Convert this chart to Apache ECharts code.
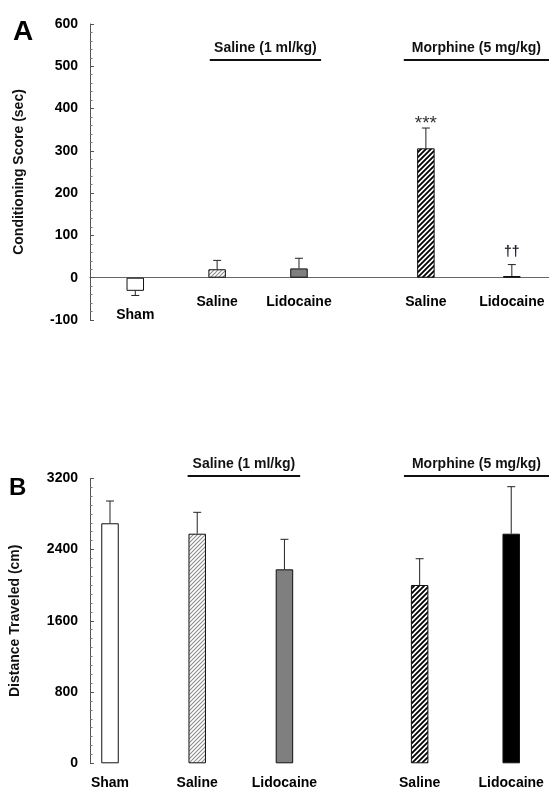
<!DOCTYPE html>
<html>
<head>
<meta charset="utf-8">
<script src="https://cdn.jsdelivr.net/npm/echarts@6/dist/echarts.min.js"></script>
<style>
html,body{margin:0;padding:0;background:#fff;}
#chart{width:549px;height:793px;}
</style>
</head>
<body>
<div id="chart"></div>
<script>
// ---- data ----
const categories = ['Sham', 'Saline', 'Lidocaine', 'Saline', 'Lidocaine'];
const xPos = [1, 2, 3, 4.55, 5.6];
const scoreMean = [-31, 20, 22, 306, 4];
const scoreSem = [11, 21, 24, 48, 27];
const scoreMarks = ['', '', '', '***', '\u2020\u2020'];
const distMean = [2695, 2578, 2178, 2002, 2578];
const distSem = [250, 240, 337, 295, 528];
const groupLabels = ['Saline (1 ml/kg)', 'Morphine (5 mg/kg)'];
const scoreTicks = [-100, 0, 100, 200, 300, 400, 500, 600];
const distTicks = [0, 800, 1600, 2400, 3200];

// ---- styles ----
const FONT = '"Liberation Sans", Arial, sans-serif';
function hatch(size, lw, color) {
  const c = document.createElement('canvas');
  c.width = c.height = size;
  const g = c.getContext('2d');
  g.fillStyle = '#fff'; g.fillRect(0, 0, size, size);
  g.strokeStyle = color; g.lineWidth = lw; g.beginPath();
  g.moveTo(0, size); g.lineTo(size, 0);
  g.moveTo(-size, size); g.lineTo(size, -size);
  g.moveTo(0, 2 * size); g.lineTo(2 * size, 0);
  g.stroke();
  return c;
}
const fills = [
  '#ffffff',
  { image: hatch(4, 1.1, '#8c8c8c'), repeat: 'repeat' },
  '#7f7f7f',
  { image: hatch(5, 1.8, '#000'), repeat: 'repeat' },
  '#000000'
];
const markStyle = {
  '***': { size: 19, weight: 'normal', dy: -4, color: '#333' },
  '\u2020\u2020': { size: 14, weight: 'bold', dy: -12, color: '#1c1c2a' }
};

const panels = [
  { mean: scoreMean, sem: scoreSem, marks: scoreMarks, ticks: scoreTicks, name: 'Conditioning Score (sec)',
    grid: { left: 90, top: 24, width: 459, height: 296 }, xMin: 0.447, xMax: 6.054, minor: 5, nameGap: 64,
    showZero: true, labelOff: 24, spans: [[1.91, 3.27], [4.28, 6.054]], level: 515 },
  { mean: distMean, sem: distSem, marks: ['', '', '', '', ''], ticks: distTicks, name: 'Distance Traveled (cm)',
    grid: { left: 90, top: 478.3, width: 459, height: 285 }, xMin: 0.7707, xMax: 6.033, minor: 8, nameGap: 68,
    showZero: false, labelOff: 20, spans: [[1.89, 3.18], [4.37, 6.033]], level: 3226 }
];

const option = {
  animation: false,
  backgroundColor: '#fff',
  title: [
    { text: 'A', left: 8, top: 13, textStyle: { fontSize: 28, fontWeight: 'bold', fontFamily: FONT, color: '#000' } },
    { text: 'B', left: 4, top: 471, textStyle: { fontSize: 24, fontWeight: 'bold', fontFamily: FONT, color: '#000' } }
  ],
  grid: [], xAxis: [], yAxis: [], series: []
};

panels.forEach((p, k) => {
  option.grid.push(p.grid);
  option.xAxis.push({
    type: 'value', gridIndex: k, min: p.xMin, max: p.xMax,
    axisLine: { show: p.showZero, onZero: true, lineStyle: { color: '#666', width: 1.2 } },
    axisTick: { show: false }, axisLabel: { show: false }, splitLine: { show: false }
  });
  const step = p.ticks[1] - p.ticks[0];
  option.yAxis.push({
    type: 'value', gridIndex: k, min: p.ticks[0], max: p.ticks[p.ticks.length - 1], interval: step,
    name: p.name, nameLocation: 'middle', nameGap: p.nameGap,
    nameTextStyle: { fontSize: 14, fontWeight: 'bold', fontFamily: FONT, color: '#111' },
    axisLine: { show: true, onZero: false, lineStyle: { color: '#555', width: 1 } },
    axisTick: { show: true, inside: true, length: 4, lineStyle: { color: '#555' } },
    minorTick: { show: true, splitNumber: p.minor, length: 2.5, lineStyle: { color: '#777' } },
    axisLabel: { fontSize: 14, fontWeight: 'bold', fontFamily: FONT, color: '#000', margin: 12,
      formatter: v => String(v) },
    splitLine: { show: false }, minorSplitLine: { show: false }
  });
  // bars
  option.series.push({
    type: 'bar', xAxisIndex: k, yAxisIndex: k, barWidth: 17.5,
    data: p.mean.map((v, i) => ({ value: [xPos[i], v], itemStyle: { color: fills[i], borderColor: '#111', borderWidth: 1 } })),
    z: 3
  });
  // error bars
  option.series.push({
    type: 'custom', xAxisIndex: k, yAxisIndex: k, z: 4, clip: false,
    data: p.mean.map((v, i) => [xPos[i], v, p.sem[i]]),
    encode: { x: 0, y: 1 },
    renderItem: (params, api) => {
      const x = api.value(0), v = api.value(1), s = api.value(2);
      const end = v < 0 ? v - s : v + s;
      const a = api.coord([x, v]), b = api.coord([x, end]);
      const st = { stroke: '#222', lineWidth: 1 };
      return { type: 'group', children: [
        { type: 'line', shape: { x1: a[0], y1: a[1], x2: b[0], y2: b[1] }, style: st },
        { type: 'line', shape: { x1: b[0] - 4, y1: b[1], x2: b[0] + 4, y2: b[1] }, style: st }
      ] };
    }
  });
  // category labels + significance marks
  option.series.push({
    type: 'custom', xAxisIndex: k, yAxisIndex: k, z: 5, clip: false,
    data: p.mean.map((v, i) => [xPos[i], v, p.sem[i]]),
    encode: { x: 0, y: 1 },
    renderItem: (params, api) => {
      const i = params.dataIndex;
      const x = api.value(0), v = api.value(1), s = api.value(2);
      const base = api.coord([x, Math.min(0, v)]);
      const children = [{ type: 'text', x: base[0], y: base[1] + p.labelOff,
        style: { text: categories[i], fontSize: 14, fontWeight: 'bold', fontFamily: FONT, fill: '#000', align: 'center', verticalAlign: 'middle' } }];
      const m = p.marks[i];
      if (m) {
        const ms = markStyle[m];
        const top = api.coord([x, v + s]);
        children.push({ type: 'text', x: top[0], y: top[1] + ms.dy,
          style: { text: m, fontSize: ms.size, fontWeight: ms.weight, fontFamily: FONT, fill: ms.color, align: 'center', verticalAlign: 'middle' } });
      }
      return { type: 'group', children };
    }
  });
  // group headers
  option.series.push({
    type: 'custom', xAxisIndex: k, yAxisIndex: k, z: 5, clip: false,
    data: p.spans.map((sp, j) => [sp[0], sp[1], p.level, j]),
    encode: { x: [0, 1], y: 2 },
    renderItem: (params, api) => {
      const a = api.coord([api.value(0), api.value(2)]);
      const b = api.coord([api.value(1), api.value(2)]);
      return { type: 'group', children: [
        { type: 'line', shape: { x1: a[0], y1: a[1], x2: b[0], y2: a[1] }, style: { stroke: '#111', lineWidth: 2 } },
        { type: 'text', x: (a[0] + b[0]) / 2, y: a[1] - 11.5,
          style: { text: groupLabels[api.value(3)], fontSize: 14, fontWeight: 'bold', fontFamily: FONT, fill: '#111', align: 'center', verticalAlign: 'middle' } }
      ] };
    }
  });
});

const chart = echarts.init(document.getElementById('chart'), null, { renderer: 'canvas' });
chart.setOption(option);
</script>
</body>
</html>
